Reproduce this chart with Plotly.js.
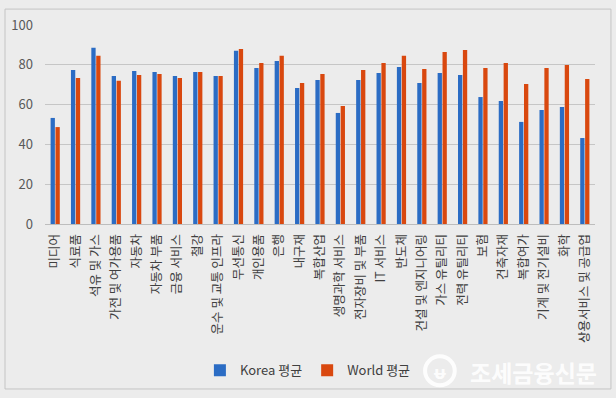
<!DOCTYPE html>
<html>
<head>
<meta charset="utf-8">
<script src="https://cdn.plot.ly/plotly-3.0.1.min.js"></script>
<style>html,body{margin:0;padding:0;background:#ececec;}#chart{width:616px;height:398px;}</style>
</head>
<body>
<div id="chart"></div>
<script>
const categories = ["미디어","식료품","석유 및 가스","가전 및 여가용품","자동차","자동차 부품","금융 서비스","철강","운수 및 교통 인프라","무선통신","개인용품","은행","내구재","복합산업","생명과학 서비스","전자장비 및 부품","IT 서비스","반도체","건설 및 엔지니어링","가스 유틸리티","전력 유틸리티","보험","건축자재","복합여가","기계 및 전기설비","화학","상용서비스 및 공급업"];
const koreaAvg = [53.3,77.4,88.6,74.4,76.9,76.4,74.4,76.4,74.4,87.0,78.4,81.9,68.3,72.4,55.8,72.4,75.9,78.9,70.9,75.9,74.9,63.8,61.8,51.3,57.3,58.8,43.2];
const worldAvg = [48.7,73.4,84.6,72.0,74.9,75.4,73.4,76.4,74.4,88.0,80.9,84.6,70.9,75.4,59.3,77.4,80.9,84.6,77.9,86.4,87.4,78.4,80.9,70.4,78.4,79.9,72.9];
const seriesNames = ["Korea 평균","World 평균"];
const yTicks = [0,20,40,60,80,100];

const font = '"Noto Sans CJK KR", "Noto Sans", sans-serif';
const traces = [
  {type:'bar', name:seriesNames[0], x:categories, y:koreaAvg, marker:{color:'#2b6cc4'}},
  {type:'bar', name:seriesNames[1], x:categories, y:worldAvg, marker:{color:'#d9480f'}}
];
const layout = {
  width:616, height:398,
  margin:{l:45, r:21, t:25, b:174},
  paper_bgcolor:'#ececec', plot_bgcolor:'#ececec',
  barmode:'group', bargap:0.52, bargroupgap:0.12,
  font:{family:font, color:'#404040'},
  xaxis:{tickangle:-90, tickfont:{size:12.5, color:'#404040'}, ticklabelstandoff:4, showline:true, linecolor:'#bdbdbd', linewidth:1, ticks:'', showgrid:false, fixedrange:true},
  yaxis:{range:[0,100], tickvals:yTicks, tickfont:{size:13, color:'#595959'}, ticklabelstandoff:11, gridcolor:'#c6c6c6', gridwidth:1, zeroline:false, showline:false, ticks:'', ticklen:0, automargin:false},
  legend:{orientation:'h', x:0.478, xanchor:'center', y:-0.735, yanchor:'middle', font:{size:13, color:'#404040'}, bgcolor:'rgba(0,0,0,0)', itemwidth:30},
  showlegend:true,
  shapes:[
    {type:'rect', xref:'paper', yref:'paper', x0:-0.0727, x1:1.029, y0:-0.829, y1:1.080, line:{color:'#c4c4c4', width:1}, fillcolor:'rgba(0,0,0,0)', layer:'below'},
    {type:'circle', xref:'paper', yref:'paper', x0:0.691, x1:0.745, y0:-0.81, y1:-0.665, line:{color:'rgba(255,255,255,0.9)', width:4}, fillcolor:'rgba(0,0,0,0)'}
  ],
  annotations:[
    {xref:'paper', yref:'paper', x:0.718, y:-0.74, xanchor:'center', yanchor:'middle', showarrow:false, text:'<b>ᵾ</b>', font:{family:font, size:18, color:'rgba(255,255,255,0.9)'}},
    {xref:'paper', yref:'paper', x:1.007, y:-0.745, xanchor:'right', yanchor:'middle', showarrow:false, text:'<b>조세금융신문</b>', font:{family:font, size:23, color:'rgba(255,255,255,0.9)'}}
  ]
};
Plotly.newPlot('chart', traces, layout, {displayModeBar:false, staticPlot:true});
</script>
</body>
</html>
